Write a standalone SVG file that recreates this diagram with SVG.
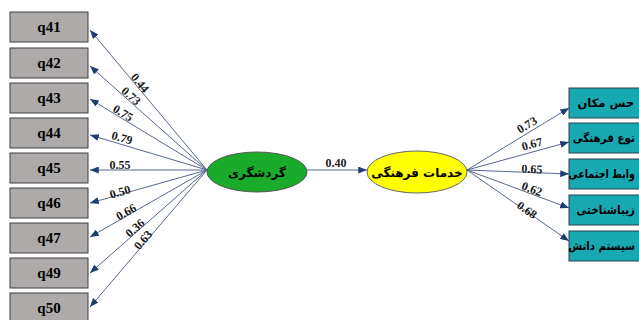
<svg xmlns="http://www.w3.org/2000/svg" width="639" height="320" viewBox="0 0 639 320">
<style>
.ibox{fill:#aeaaaa;stroke:#3f3f3f;stroke-width:1}
.rbox{fill:#17a8b2;stroke:#2f3f4f;stroke-width:1}
.qt{font-family:"Liberation Serif",serif;font-weight:bold;font-size:15px;fill:#000;text-anchor:middle}
.ft{font-family:"DejaVu Sans",sans-serif;font-weight:bold;font-size:11.5px;fill:#000;text-anchor:end}
.et{font-family:"DejaVu Sans",sans-serif;font-weight:bold;font-size:12px;fill:#000;text-anchor:middle}
.lbl{font-family:"Liberation Serif",serif;font-weight:bold;font-size:12px;fill:#1a1a1a;text-anchor:middle}
.ln{stroke:#56698f;stroke-width:1;fill:none;marker-end:url(#ah)}
</style>
<defs>
<marker id="ah" viewBox="0 0 10 8" refX="10" refY="4" markerWidth="9" markerHeight="7" markerUnits="userSpaceOnUse" orient="auto">
<path d="M0,0 L10,4 L0,8 z" fill="#1f3b73"/>
</marker>
</defs>
<rect width="639" height="320" fill="#fff"/>
<g id="connectors">
<line class="ln" x1="207" y1="170" x2="90" y2="30"/>
<line class="ln" x1="207" y1="170" x2="90" y2="66"/>
<line class="ln" x1="207" y1="170" x2="90" y2="99"/>
<line class="ln" x1="207" y1="170" x2="90" y2="135"/>
<line class="ln" x1="207" y1="170" x2="90" y2="170"/>
<line class="ln" x1="207" y1="170" x2="90" y2="203"/>
<line class="ln" x1="207" y1="170" x2="90" y2="237"/>
<line class="ln" x1="207" y1="170" x2="90" y2="273"/>
<line class="ln" x1="207" y1="170" x2="90" y2="307"/>
<line class="ln" x1="307" y1="170" x2="367" y2="170"/>
<line class="ln" x1="467" y1="170" x2="569" y2="108"/>
<line class="ln" x1="467" y1="170" x2="569" y2="142"/>
<line class="ln" x1="467" y1="170" x2="569" y2="174"/>
<line class="ln" x1="467" y1="170" x2="569" y2="208"/>
<line class="ln" x1="467" y1="170" x2="569" y2="241"/>
<text class="lbl" transform="translate(140,83) rotate(50)" y="4">0.44</text>
<text class="lbl" transform="translate(131,96) rotate(41.6)" y="4">0.73</text>
<text class="lbl" transform="translate(123,113) rotate(31.3)" y="4">0.75</text>
<text class="lbl" transform="translate(122,138) rotate(16.7)" y="4">0.79</text>
<text class="lbl" transform="translate(120,165)" y="4">0.55</text>
<text class="lbl" transform="translate(120,192) rotate(-15.8)" y="4">0.50</text>
<text class="lbl" transform="translate(126,212) rotate(-29.8)" y="4">0.66</text>
<text class="lbl" transform="translate(135,228) rotate(-41.4)" y="4">0.36</text>
<text class="lbl" transform="translate(143,240) rotate(-49.5)" y="4">0.63</text>
<text class="lbl" transform="translate(336,163)" y="4">0.40</text>
<text class="lbl" transform="translate(527,125) rotate(-31.3)" y="4">0.73</text>
<text class="lbl" transform="translate(532,144) rotate(-15.4)" y="4">0.67</text>
<text class="lbl" transform="translate(532,169) rotate(2.2)" y="4">0.65</text>
<text class="lbl" transform="translate(532,189) rotate(20.4)" y="4">0.62</text>
<text class="lbl" transform="translate(527,210) rotate(34.8)" y="4">0.68</text>
</g>
<g id="q41"><rect class="ibox" x="10" y="12" width="78" height="30"/><text class="qt" x="49" y="32">q41</text></g>
<g id="q42"><rect class="ibox" x="10" y="48" width="78" height="30"/><text class="qt" x="49" y="68">q42</text></g>
<g id="q43"><rect class="ibox" x="10" y="83" width="78" height="30"/><text class="qt" x="49" y="103">q43</text></g>
<g id="q44"><rect class="ibox" x="10" y="118" width="78" height="30"/><text class="qt" x="49" y="138">q44</text></g>
<g id="q45"><rect class="ibox" x="10" y="153" width="78" height="30"/><text class="qt" x="49" y="173">q45</text></g>
<g id="q46"><rect class="ibox" x="10" y="188" width="78" height="30"/><text class="qt" x="49" y="208">q46</text></g>
<g id="q47"><rect class="ibox" x="10" y="223" width="78" height="30"/><text class="qt" x="49" y="243">q47</text></g>
<g id="q49"><rect class="ibox" x="10" y="258" width="78" height="30"/><text class="qt" x="49" y="278">q49</text></g>
<g id="q50"><rect class="ibox" x="10" y="293" width="78" height="30"/><text class="qt" x="49" y="313">q50</text></g>
<g id="tourism"><ellipse cx="257" cy="172" rx="50" ry="20" fill="#1aab2a" stroke="#555" stroke-width="1"/><text class="et" x="257" y="177">گردشگری</text></g>
<g id="cultural-services"><ellipse cx="417" cy="172" rx="50" ry="21" fill="#ffff00" stroke="#666" stroke-width="1"/><text class="et" x="417" y="177">خدمات فرهنگی</text></g>
<g id="r1"><rect class="rbox" x="569" y="88" width="72" height="30"/><text class="ft" x="634" y="107">حس مکان</text></g>
<g id="r2"><rect class="rbox" x="569" y="123" width="72" height="30"/><text class="ft" transform="translate(635,142) scale(0.9,1)">نوع فرهنگی</text></g>
<g id="r3"><rect class="rbox" x="569" y="159" width="72" height="30"/><text class="ft" transform="translate(635,178) scale(0.83,1)">وابط اجتماعی</text></g>
<g id="r4"><rect class="rbox" x="569" y="195" width="72" height="30"/><text class="ft" transform="translate(635,214) scale(0.9,1)">زیباشناختی</text></g>
<g id="r5"><rect class="rbox" x="569" y="231" width="72" height="30"/><text class="ft" transform="translate(635,250) scale(0.88,1)">سیستم دانش</text></g>
</svg>
